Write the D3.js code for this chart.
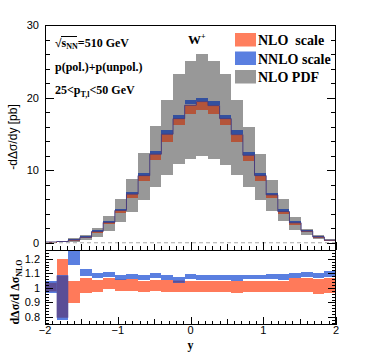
<!DOCTYPE html>
<html>
<head>
<meta charset="utf-8">
<script src="https://cdn.jsdelivr.net/npm/d3@7"></script>
<style>
    body { margin: 0; background: #fff; }
    svg { display: block; }
    .serif { font-family: "Liberation Serif", "Times New Roman", serif; font-weight: bold; }
    .sans { font-family: "Liberation Sans", Arial, sans-serif; }
</style>
</head>
<body>
<div id="container"></div>
<script>
// 画布大小
const WIDTH = 374;
const HEIGHT = 357;

// 面板边界
const X1 = 45, X2 = 336;
const TOP1 = 25, BOT1 = 250, BOT2 = 325;

// bin 边界 (y)
const binEdges = [-2, -1.84, -1.68, -1.52, -1.36, -1.2, -1.04, -0.88, -0.72, -0.56, -0.4, -0.24, -0.08,
    0.08, 0.24, 0.4, 0.56, 0.72, 0.88, 1.04, 1.2, 1.36, 1.52, 1.68, 1.84, 2];

// 上图: NLO PDF 误差带
const pdfLo = [0.02, 0.05, 0.15, 0.4, 0.8, 1.6, 2.9, 4.2, 5.9, 7.7, 9.4, 10.8, 11.6, 11.9, 11.6, 10.7, 9.4, 7.7, 5.9, 4.4, 3.0, 1.8, 1.0, 0.5, 0.2];
const pdfHi = [0.15, 0.3, 0.6, 1.1, 2.1, 3.7, 6.0, 8.8, 12.3, 16.1, 19.6, 23.3, 25.1, 26.0, 25.1, 23.3, 19.6, 16.0, 12.2, 8.6, 6.0, 3.5, 1.95, 1.0, 0.55];
// 上图: NLO scale
const nloLo = [0.04, 0.1, 0.3, 0.65, 1.4, 2.55, 4.1, 6.1, 8.55, 11.4, 13.9, 16.2, 17.8, 18.3, 17.8, 16.2, 13.9, 11.2, 8.5, 6.1, 4.0, 2.5, 1.48, 0.72, 0.3];
const nloHi = [0.1, 0.17, 0.38, 0.75, 1.55, 2.8, 4.45, 6.7, 9.25, 12.2, 14.95, 17.1, 18.95, 19.45, 18.9, 17.1, 14.9, 12.05, 9.25, 6.6, 4.3, 2.75, 1.6, 0.8, 0.35];
// 上图: NNLO scale
const nnloLo = [0.1, 0.17, 0.38, 0.75, 1.55, 2.8, 4.45, 6.7, 9.25, 12.2, 15.0, 17.1, 19.1, 19.5, 19.0, 17.1, 15.0, 12.05, 9.25, 6.6, 4.3, 2.75, 1.6, 0.8, 0.35];
const nnloHi = [0.14, 0.22, 0.46, 0.88, 1.7, 3.0, 4.7, 7.0, 9.6, 12.6, 15.5, 17.6, 19.6, 20.0, 19.5, 17.6, 15.5, 12.5, 9.6, 6.9, 4.6, 2.95, 1.72, 0.88, 0.4];

// 下图: 比值
const rNloLo = [0.975, 0.795, 0.895, 0.965, 0.975, 0.995, 0.978, 0.98, 0.975, 0.98, 0.975, 0.97, 0.975, 0.975, 0.975, 0.975, 0.965, 0.97, 0.975, 0.97, 0.975, 0.975, 0.97, 0.955, 0.965];
const rNloHi = [1.035, 1.2, 1.045, 1.065, 1.055, 1.07, 1.058, 1.06, 1.05, 1.055, 1.055, 1.05, 1.05, 1.05, 1.045, 1.05, 1.045, 1.05, 1.05, 1.05, 1.05, 1.07, 1.07, 1.06, 1.065];
const rNnloLo = [0.965, 0.78, 1.155, 1.08, 1.065, 1.075, 1.055, 1.06, 1.055, 1.065, 1.055, 1.035, 1.06, 1.055, 1.055, 1.055, 1.05, 1.06, 1.06, 1.06, 1.055, 1.07, 1.075, 1.065, 1.075];
const rNnloHi = [1.045, 1.085, 1.27, 1.13, 1.1, 1.11, 1.09, 1.095, 1.09, 1.1, 1.09, 1.075, 1.095, 1.09, 1.085, 1.09, 1.085, 1.09, 1.09, 1.095, 1.095, 1.105, 1.11, 1.1, 1.115];

// 刻度
const xTickLabels = [-2, -1, 0, 1, 2];
const yTopTicks = [0, 10, 20, 30];
const yBotTicks = [0.8, 0.9, 1, 1.1, 1.2];

// 图例
const legendItems = [
    { label: "NLO  scale", color: "#ff7f5e" },
    { label: "NNLO scale", color: "#5a7fe0" },
    { label: "NLO PDF", color: "#989898" }
];

main();

function main() {
    const svg = d3.select("#container").append("svg")
        .attr("width", WIDTH)
        .attr("height", HEIGHT);

    const x = d3.scaleLinear().domain([-2, 2]).range([X1, X2]);
    const y1 = d3.scaleLinear().domain([-1, 30]).range([BOT1, TOP1]);
    const y2 = d3.scaleLinear().domain([0.745, 1.26]).range([BOT2, BOT1]);

    const bins = d3.range(binEdges.length - 1);

    // clip
    const defs = svg.append("defs");
    defs.append("clipPath").attr("id", "clipTop").append("rect")
        .attr("x", X1).attr("y", TOP1).attr("width", X2 - X1).attr("height", BOT1 - TOP1);
    defs.append("clipPath").attr("id", "clipBot").append("rect")
        .attr("x", X1).attr("y", BOT1).attr("width", X2 - X1).attr("height", BOT2 - BOT1);

    // ---------- 上图 ----------
    const top = svg.append("g").attr("clip-path", "url(#clipTop)");
    drawBand(top, bins, x, y1, pdfLo, pdfHi, "#989898");
    drawBand(top, bins, x, y1, nloLo, nloHi, "#b4553a");
    drawBand(top, bins, x, y1, nnloLo, nnloHi, "#33509f");

    // 中心线
    const pts = [];
    bins.forEach(i => {
        pts.push([binEdges[i], nloHi[i]]);
        pts.push([binEdges[i + 1], nloHi[i]]);
    });
    top.append("path")
        .attr("d", d3.line().x(d => x(d[0])).y(d => y1(d[1]))(pts))
        .attr("fill", "none")
        .attr("stroke", "#4a3c7c")
        .attr("stroke-width", 1);

    // 0 虚线
    svg.append("line")
        .attr("x1", X1).attr("x2", X2)
        .attr("y1", y1(0)).attr("y2", y1(0))
        .attr("stroke", "#aaa")
        .attr("stroke-dasharray", "4,3")
        .attr("stroke-width", 1);

    // ---------- 下图 ----------
    const bot = svg.append("g").attr("clip-path", "url(#clipBot)");
    drawBand(bot, bins, x, y2, rNloLo, rNloHi, "#ff7a5a");
    drawBand(bot, bins, x, y2, rNnloLo, rNnloHi, "#5a7fe0");
    // 重叠部分
    bot.selectAll("rect.overlap")
        .data(bins.filter(i => Math.min(rNloHi[i], rNnloHi[i]) > Math.max(rNloLo[i], rNnloLo[i])))
        .enter()
        .append("rect")
        .attr("class", "overlap")
        .attr("x", i => x(binEdges[i]))
        .attr("width", i => x(binEdges[i + 1]) - x(binEdges[i]))
        .attr("y", i => y2(Math.min(rNloHi[i], rNnloHi[i])))
        .attr("height", i => y2(Math.max(rNloLo[i], rNnloLo[i])) - y2(Math.min(rNloHi[i], rNnloHi[i])))
        .attr("fill", "#5b4e96");

    // ---------- 坐标轴 ----------
    const axes = svg.append("g").attr("stroke", "#000").attr("stroke-width", 1);

    // 框
    axes.append("rect")
        .attr("x", X1 + 0.5).attr("y", TOP1 + 0.5)
        .attr("width", X2 - X1 - 1).attr("height", BOT2 - TOP1 - 1)
        .attr("fill", "none");
    axes.append("line")
        .attr("x1", X1).attr("x2", X2)
        .attr("y1", BOT1 + 0.5).attr("y2", BOT1 + 0.5);

    // x 刻度 (两个面板的底部, 朝上)
    const xMinor = d3.range(-20, 21).map(k => k / 10);
    [BOT1, BOT2].forEach(yb => {
        axes.selectAll(null)
            .data(xMinor)
            .enter()
            .append("line")
            .attr("x1", d => Math.round(x(d)) + 0.5)
            .attr("x2", d => Math.round(x(d)) + 0.5)
            .attr("y1", yb)
            .attr("y2", d => {
                const k = Math.round(d * 10);
                const len = k % 10 === 0 ? 8 : (k % 5 === 0 ? 6 : 4);
                return yb - len;
            });
    });

    // y 刻度: 上图
    const yTopMinor = d3.range(0, 31, 2);
    yTicks(axes, yTopMinor, y1, d => (d % 10 === 0 ? 9 : 5));
    // y 刻度: 下图
    const yBotMinor = d3.range(76, 126, 2).map(k => k / 100);
    yTicks(axes, yBotMinor, y2, d => (Math.round(d * 100) % 10 === 0 ? 8 : 4));

    // 刻度标签
    svg.selectAll("text.ytop")
        .data(yTopTicks)
        .enter()
        .append("text")
        .attr("class", "sans")
        .attr("x", 39)
        .attr("y", d => y1(d) + 4)
        .attr("text-anchor", "end")
        .attr("font-size", 11)
        .text(d => d);

    svg.selectAll("text.ybot")
        .data(yBotTicks)
        .enter()
        .append("text")
        .attr("class", "sans")
        .attr("x", 40)
        .attr("y", d => y2(d) + 4)
        .attr("text-anchor", "end")
        .attr("font-size", 11)
        .text(d => d);

    svg.selectAll("text.xbot")
        .data(xTickLabels)
        .enter()
        .append("text")
        .attr("class", "sans")
        .attr("x", d => x(d))
        .attr("y", 334)
        .attr("text-anchor", "middle")
        .attr("font-size", 11)
        .text(d => (d < 0 ? "\u2212" + Math.abs(d) : d));

    // 轴标题
    svg.append("text")
        .attr("class", "serif")
        .attr("x", x(0))
        .attr("y", 349)
        .attr("text-anchor", "middle")
        .attr("font-size", 12)
        .text("y");

    svg.append("text")
        .attr("class", "sans")
        .attr("transform", "translate(17,137) rotate(-90)")
        .attr("text-anchor", "middle")
        .attr("font-size", 12)
        .text("-d\u0394\u03c3/dy [pb]");

    const t2 = svg.append("text")
        .attr("class", "serif")
        .attr("transform", "translate(19,292) rotate(-90)")
        .attr("text-anchor", "middle")
        .attr("font-size", 12);
    t2.append("tspan").text("d\u0394\u03c3/d \u0394\u03c3");
    t2.append("tspan").attr("font-size", 8).attr("dy", 3).text("NLO");

    // ---------- 注释 ----------
    const a1 = svg.append("text").attr("class", "serif").attr("x", 55).attr("y", 47).attr("font-size", 12);
    a1.append("tspan").attr("class", "sans").attr("font-weight", "normal").text("\u221a");
    a1.append("tspan").text("s");
    a1.append("tspan").attr("font-size", 8).attr("dy", 2).text("NN");
    a1.append("tspan").attr("dy", -2).text("=510 GeV");
    svg.append("line")
        .attr("x1", 61).attr("x2", 77)
        .attr("y1", 36.5).attr("y2", 36.5)
        .attr("stroke", "#000").attr("stroke-width", 1);

    svg.append("text").attr("class", "serif")
        .attr("x", 55).attr("y", 71).attr("font-size", 12)
        .text("p(pol.)+p(unpol.)");

    const a3 = svg.append("text").attr("class", "serif").attr("x", 55).attr("y", 94).attr("font-size", 12);
    a3.append("tspan").text("25<p");
    a3.append("tspan").attr("font-size", 8).attr("dy", 3).text("T,l");
    a3.append("tspan").attr("dy", -3).text("<50 GeV");

    const w = svg.append("text").attr("class", "serif").attr("x", 188).attr("y", 44).attr("font-size", 13);
    w.append("tspan").text("W");
    w.append("tspan").attr("font-size", 8).attr("dy", -5).text("+");

    // ---------- 图例 ----------
    const legend = svg.append("g");
    legendItems.forEach((d, i) => {
        const yy = 33 + i * 18.5;
        legend.append("rect")
            .attr("x", 235).attr("y", yy)
            .attr("width", 21).attr("height", 13.5)
            .attr("fill", d.color);
        legend.append("text")
            .attr("class", "serif")
            .attr("x", 258).attr("y", yy + 12)
            .attr("font-size", 14)
            .style("white-space", "pre")
            .text(d.label);
    });
}

// 误差带 (每个 bin 一个矩形)
function drawBand(g, bins, x, y, lo, hi, color) {
    g.append("g")
        .selectAll("rect")
        .data(bins)
        .enter()
        .append("rect")
        .attr("x", i => x(binEdges[i]))
        .attr("width", i => x(binEdges[i + 1]) - x(binEdges[i]))
        .attr("y", i => y(hi[i]))
        .attr("height", i => Math.max(0.5, y(lo[i]) - y(hi[i])))
        .attr("fill", color)
        .attr("shape-rendering", "crispEdges");
}

function yTicks(g, values, y, len) {
    values.forEach(d => {
        const yy = Math.round(y(d)) + 0.5;
        g.append("line").attr("x1", X1).attr("x2", X1 + len(d)).attr("y1", yy).attr("y2", yy);
        g.append("line").attr("x1", X2).attr("x2", X2 - len(d)).attr("y1", yy).attr("y2", yy);
    });
}
</script>
</body>
</html>
